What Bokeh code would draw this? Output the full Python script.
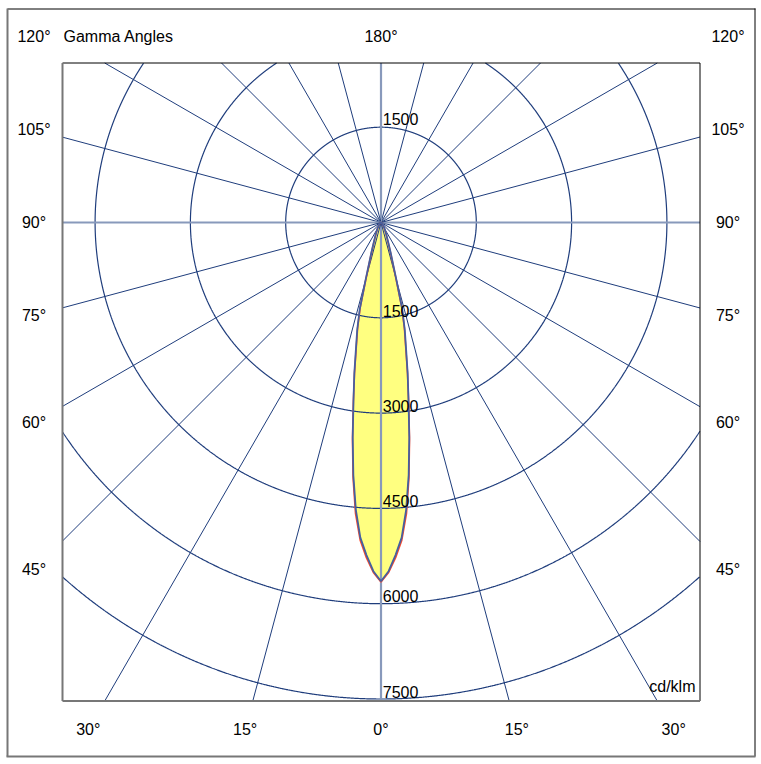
import numpy as np
from bokeh.plotting import figure
from bokeh.models import Range1d
from bokeh.core.properties import value
from bokeh.embed import file_html
from bokeh.resources import INLINE

# ---------------- data ----------------
gamma = [0, 1.25, 2.5, 3.75, 5, 6.25, 7.5, 8.75, 10, 11.25, 12.5, 13.75, 15,
         17.5, 20, 25, 30, 35, 40, 45, 50, 60, 70, 80, 90]
c0_c180 = [5660, 5510, 5280, 5010, 4600, 4040, 3440, 2860, 2400, 1990, 1700, 1380, 900,
           500, 320, 175, 105, 68, 44, 30, 20, 10, 5, 2, 0]
c90_c270 = [5646, 5490, 5240, 4970, 4540, 4000, 3410, 2850, 2420, 2020, 1730, 1410, 940,
            525, 335, 185, 112, 72, 46, 31, 21, 10, 5, 2, 0]
rings = [1500, 3000, 4500, 6000, 7500]
ray_angles = list(range(0, 360, 15))
side_angle_labels = [45, 60, 75, 90, 105, 120]
bottom_angle_labels = [0, 15, 30]
top_angle_label = 180
unit_label = "cd/klm"
title = "Gamma Angles"

# ---------------- layout ----------------
W, H = 761, 764
CX, CY = 380.5, 222.0          # pixel position of the pole
K = 1500 / 95.3                # cd/klm per pixel
FONT = value("Liberation Sans")
FS = "16px"
NAVY = "#1f3d7c"
LIGHT = "#8899bb"


def X(px):
    return (px - CX) * K


def Y(py):
    return (CY - py) * K


p = figure(width=W, height=H, x_range=Range1d(X(0), X(W)), y_range=Range1d(Y(H), Y(0)),
           output_backend="svg", toolbar_location=None, min_border=0,
           x_axis_type=None, y_axis_type=None)
p.grid.visible = False
p.outline_line_color = None
p.background_fill_color = "white"
p.border_fill_color = "white"

BL, BR, BT, BB = X(62), X(699.5), Y(62.5), Y(700.5)

# ---------------- light distribution fill ----------------
def polygon(vals):
    g = np.radians(np.array(gamma, dtype=float))
    v = np.array(vals, dtype=float)
    xl = -v[::-1] * np.sin(g[::-1])
    yl = -v[::-1] * np.cos(g[::-1])
    xr = v[1:] * np.sin(g[1:])
    yr = -v[1:] * np.cos(g[1:])
    return np.concatenate([xl, xr]), np.concatenate([yl, yr])


rx, ry = polygon(c0_c180)
bx, by = polygon(c90_c270)
p.patch(rx, ry, fill_color="#ffff80", line_color=None)
p.patch(bx, by, fill_color="#ffff80", line_color=None)

# ---------------- circles (clipped to the box) ----------------
th = np.linspace(0, 2 * np.pi, 4001)
for r in rings:
    xs = r * np.sin(th)
    ys = r * np.cos(th)
    inside = (xs >= BL) & (xs <= BR) & (ys <= BT) & (ys >= BB)
    xs = np.where(inside, xs, np.nan)
    ys = np.where(inside, ys, np.nan)
    p.line(xs, ys, line_color=NAVY, line_width=1.2)

# ---------------- rays ----------------
for a in ray_angles:
    dx = np.sin(np.radians(a))
    dy = -np.cos(np.radians(a))
    ts = []
    if dx > 1e-9:
        ts.append(BR / dx)
    if dx < -1e-9:
        ts.append(BL / dx)
    if dy > 1e-9:
        ts.append(BT / dy)
    if dy < -1e-9:
        ts.append(BB / dy)
    t = min(ts)
    light = (a % 90 == 0)
    p.line([0, t * dx], [0, t * dy], line_color=LIGHT if light else NAVY,
           line_width=2.2 if light else 1.0)

# ---------------- outlines ----------------
p.line(rx, ry, line_color="#ff4a2a", line_width=1.6)
p.line(bx, by, line_color="#4560a0", line_width=1.8)

# ---------------- ring labels ----------------
for r in rings:
    p.text([1.8 * K], [-r + 7.3 * K], text=[str(r)], text_font=FONT, text_font_size=FS,
           text_align="left", text_baseline="middle", text_color="black")
    if r + 16 * K < BT:
        p.text([1.8 * K], [r + 8.2 * K], text=[str(r)], text_font=FONT, text_font_size=FS,
               text_align="left", text_baseline="middle", text_color="black")

# ---------------- angle labels ----------------
SIDE = 347.0
for a in side_angle_labels:
    ar = np.radians(a)
    ypx = CY + SIDE * np.cos(ar) / np.sin(ar)
    ypx = max(ypx, 36)
    for sgn in (-1, 1):
        p.text([sgn * SIDE * K], [Y(ypx)], text=[f"{a}°"], text_font=FONT,
               text_font_size=FS, text_align="center", text_baseline="middle",
               text_color="black")

BOT = 507.0
for a in bottom_angle_labels:
    dxp = BOT * np.tan(np.radians(a))
    sides = (1,) if a == 0 else (-1, 1)
    for sgn in sides:
        p.text([sgn * dxp * K], [Y(CY + BOT)], text=[f"{a}°"], text_font=FONT,
               text_font_size=FS, text_align="center", text_baseline="middle",
               text_color="black")

p.text([0], [Y(36)], text=[f"{top_angle_label}°"], text_font=FONT, text_font_size=FS,
       text_align="center", text_baseline="middle", text_color="black")
p.text([X(63)], [Y(36)], text=[title], text_font=FONT, text_font_size=FS,
       text_align="left", text_baseline="middle", text_color="black")
p.text([X(695)], [Y(686)], text=[unit_label], text_font=FONT, text_font_size=FS,
       text_align="right", text_baseline="middle", text_color="black")

# ---------------- frames ----------------
GRAY = "#777777"
# outer frame
p.segment([X(7)], [Y(8.5)], [X(755)], [Y(8.5)], line_color="black", line_width=1)
p.segment([X(754.5)], [Y(8)], [X(754.5)], [Y(756)], line_color="black", line_width=1)
p.segment([X(7)], [Y(8)], [X(7)], [Y(756)], line_color=GRAY, line_width=2)
p.segment([X(6)], [Y(756)], [X(755)], [Y(756)], line_color=GRAY, line_width=2)
# plot box
p.segment([BL], [BT], [BR], [BT], line_color="black", line_width=1)
p.segment([BR], [BT], [BR], [BB], line_color="black", line_width=1)
p.segment([BL], [BT], [BL], [BB], line_color=GRAY, line_width=2)
p.segment([BL], [BB], [BR], [BB], line_color=GRAY, line_width=2)

open("out.html", "w").write(file_html(p, INLINE))
